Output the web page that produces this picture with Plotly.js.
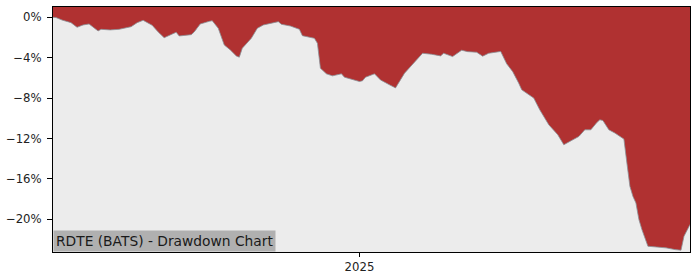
<!DOCTYPE html>
<html>
<head>
<meta charset="utf-8">
<script src="https://cdn.plot.ly/plotly-3.0.1.min.js"></script>
<style>html,body{margin:0;padding:0;background:#fff;}#chart{width:700px;height:280px;}</style>
</head>
<body>
<div id="chart"></div>
<script>
const chartTitle = "RDTE (BATS) - Drawdown Chart";
const dates = ["2024-09-21","2024-09-22","2024-09-24","2024-09-25","2024-09-27","2024-09-29","2024-10-01","2024-10-03","2024-10-06","2024-10-07",
"2024-10-10","2024-10-13","2024-10-17","2024-10-19","2024-10-21","2024-10-22","2024-10-24","2024-10-26","2024-10-28","2024-10-30",
"2024-11-01","2024-11-02","2024-11-06","2024-11-07","2024-11-09","2024-11-12","2024-11-13","2024-11-15","2024-11-17","2024-11-19",
"2024-11-21","2024-11-22","2024-11-23","2024-11-26","2024-11-28","2024-11-30","2024-12-03","2024-12-05","2024-12-06","2024-12-09",
"2024-12-12","2024-12-13","2024-12-17","2024-12-18","2024-12-19","2024-12-21","2024-12-23","2024-12-26","2024-12-27","2025-01-01",
"2025-01-02","2025-01-03","2025-01-06","2025-01-08","2025-01-11","2025-01-13","2025-01-16","2025-01-18","2025-01-20","2025-01-22",
"2025-01-25","2025-01-28","2025-01-29","2025-02-01","2025-02-04","2025-02-06","2025-02-09","2025-02-11","2025-02-13","2025-02-17",
"2025-02-19","2025-02-21","2025-02-23","2025-02-24","2025-02-28","2025-03-02","2025-03-04","2025-03-05","2025-03-08","2025-03-10",
"2025-03-13","2025-03-15","2025-03-17","2025-03-19","2025-03-21","2025-03-22","2025-03-23","2025-03-25","2025-03-27","2025-03-29",
"2025-03-30","2025-03-31","2025-04-01","2025-04-02","2025-04-03","2025-04-04","2025-04-05","2025-04-07","2025-04-10","2025-04-13",
"2025-04-16","2025-04-18","2025-04-19","2025-04-21"];
const drawdown = [0.0,-0.02,-0.27,-0.37,-0.53,-0.99,-0.76,-0.66,-1.35,-1.19,
-1.25,-1.19,-0.93,-0.53,-0.30,-0.46,-0.79,-1.45,-2.02,-1.75,
-1.48,-1.85,-1.72,-1.45,-0.66,-0.40,-0.34,-1.09,-2.74,-3.23,
-3.82,-3.95,-3.06,-2.08,-1.09,-0.76,-0.53,-0.43,-0.69,-0.86,
-1.19,-1.82,-2.08,-2.57,-5.04,-5.60,-5.80,-5.60,-5.93,-6.36,
-6.29,-5.93,-5.60,-6.20,-6.69,-6.99,-5.53,-4.88,-4.32,-3.56,
-3.66,-3.82,-3.56,-3.89,-3.26,-3.40,-3.46,-3.85,-3.56,-3.38,
-4.61,-5.38,-6.52,-7.18,-8.00,-9.16,-10.15,-10.64,-11.63,-12.62,
-12.13,-11.80,-11.14,-11.14,-10.42,-10.15,-10.22,-11.14,-11.46,-11.86,
-12.06,-14.43,-16.74,-17.73,-18.38,-20.03,-21.02,-22.67,-22.73,-22.83,
-23.00,-23.06,-21.68,-20.52];
const yTickVals = [0,-4,-8,-12,-16,-20];
const yTickText = ["0%","\u22124%","\u22128%","\u221212%","\u221216%","\u221220%"];
const xTickVals = ["2025-01-01"];
const xTickText = ["2025"];
const yRange = [-23.24, 1.02];

const first = dates[0], last = dates[dates.length-1];
const traces = [
  {x:[first,last], y:[yRange[0],yRange[0]], mode:'lines', line:{width:0,color:'rgba(0,0,0,0)'}, hoverinfo:'skip', showlegend:false},
  {x:dates, y:drawdown, mode:'lines', fill:'tonexty', fillcolor:'#ececec', line:{color:'#8a8f96', width:0.8}, showlegend:false}
];
const font = {family:'DejaVu Sans, sans-serif', size:11.7, color:'#222'};
const layout = {
  width:700, height:280,
  margin:{l:53, r:10, t:7, b:28, pad:0},
  paper_bgcolor:'#ffffff', plot_bgcolor:'#b03131',
  font:font,
  showlegend:false,
  xaxis:{type:'date', range:[first,last], showgrid:false, zeroline:false,
    showline:true, linecolor:'#000', linewidth:1, mirror:true,
    ticks:'outside', ticklen:4, tickcolor:'#000', tickwidth:1,
    tickmode:'array', tickvals:xTickVals, ticktext:xTickText, tickfont:font},
  yaxis:{range:yRange, showgrid:false, zeroline:false,
    showline:true, linecolor:'#000', linewidth:1, mirror:true,
    ticks:'outside', ticklen:5, tickcolor:'#000', tickwidth:1,
    tickmode:'array', tickvals:yTickVals, ticktext:yTickText, tickfont:font, ticklabelstandoff:3},
  annotations:[{text:chartTitle, xref:'paper', yref:'paper', x:0, y:0, xanchor:'left', yanchor:'bottom',
    showarrow:false, bgcolor:'#b0b0b0', borderpad:2, font:{family:'DejaVu Sans, sans-serif', size:13.8, color:'#1a1a1a'}}]
};
Plotly.newPlot('chart', traces, layout, {staticPlot:true, displayModeBar:false});
</script>
</body>
</html>
